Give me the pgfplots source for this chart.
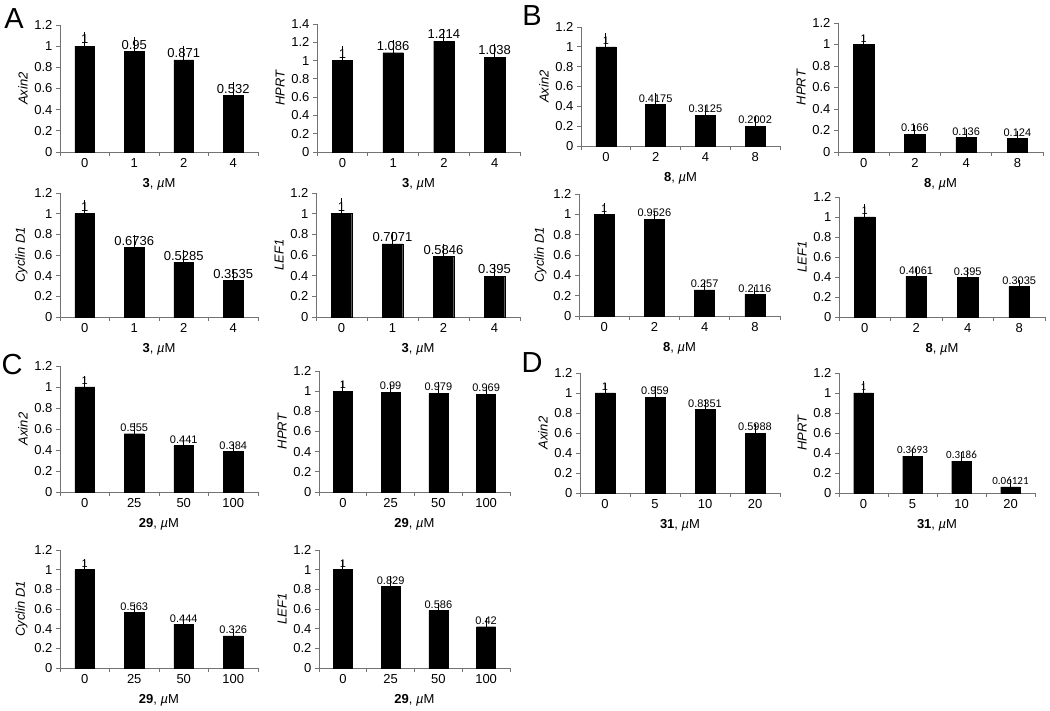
\documentclass[border=0pt]{standalone}
\usepackage{fontspec}
\setmainfont{Liberation Sans}
\newfontfamily\carlito{Carlito}
\usepackage{pgfplots}
\pgfplotsset{compat=1.18}

\pgfplotsset{
  panel/.style={
    scale only axis, anchor=south west, clip=false,
    xmin=-0.5, xmax=3.5, ymin=0, ymax=1.2,
    axis x line*=bottom, axis y line*=left,
    axis line style={draw=black!55, line width=0.8pt},
    ytick={0,0.2,0.4,0.6,0.8,1,1.2},
    tick style={draw=black!55, line width=0.8pt},
    tick align=outside, major tick length=4pt,
    xtick={-0.5,0.5,1.5,2.5,3.5}, xticklabels={},
    extra x ticks={0,1,2,3},
    extra x tick style={major tick length=0pt, tick style={draw=none}},
    tick label style={font=\fontsize{13}{15}\selectfont, /pgf/number format/assume math mode=true},
    xticklabel style={yshift=-3pt},
    xlabel style={font=\fontsize{13}{15}\selectfont},
    ylabel style={font=\fontsize{13}{15}\selectfont\itshape},
    ybar, bar width=0.4,
    nodes near coords, point meta=explicit symbolic,
    every node near coord/.append style={font=\fontsize{11}{13}\selectfont, black, inner sep=2pt},
  },
  biglab/.style={every node near coord/.append style={font=\fontsize{13}{15}\selectfont}},
  blk/.style={fill=black, draw=black,
    error bars/y dir=plus, error bars/y explicit,
    error bars/error bar style={black, line width=0.9pt},
    error bars/error mark options={black, line width=0.9pt, mark size=3.5pt}},
}

\begin{document}
\begin{tikzpicture}
\fill[white] (0,0) rectangle (1050pt,710pt);
\path[use as bounding box] (0,0) rectangle (1050pt,710pt);

% panel letters
\node[font=\fontsize{29}{30}\selectfont] at (14pt,691pt) {A};
\node[font=\fontsize{29}{30}\selectfont] at (532pt,694pt) {B};
\node[font=\fontsize{29}{30}\selectfont] at (12pt,345pt) {C};
\node[font=\fontsize{29}{30}\selectfont] at (532pt,347pt) {D};

% ---- A ----
\begin{axis}[panel, biglab, at={(60pt,558pt)}, width=198pt, height=127pt,
  ylabel={Axin2}, extra x tick labels={0,1,2,4}, xlabel={\textbf{3}, \textit{µ}M}]
\addplot[blk] table[x=x, y=y, y error=e, meta=l] {
x y e l
0 1 0.1 1
1 0.95 0.1 0.95
2 0.871 0.1 0.871
3 0.532 0.1 0.532
};
\end{axis}

\begin{axis}[panel, biglab, at={(317pt,558pt)}, width=203pt, height=128pt,
  ymax=1.4, ytick={0,0.2,0.4,0.6,0.8,1,1.2,1.4},
  ylabel={HPRT}, extra x tick labels={0,1,2,4}, xlabel={\textbf{3}, \textit{µ}M}]
\addplot[blk] table[x=x, y=y, y error=e, meta=l] {
x y e l
0 1 0.12 1
1 1.086 0.1 1.086
2 1.214 0.09 1.214
3 1.038 0.11 1.038
};
\end{axis}

\begin{axis}[panel, biglab, at={(60pt,393pt)}, width=198pt, height=124pt,
  ylabel={Cyclin D1}, extra x tick labels={0,1,2,4}, xlabel={\textbf{3}, \textit{µ}M}]
\addplot[blk] table[x=x, y=y, y error=e, meta=l] {
x y e l
0 1 0.1 1
1 0.6736 0.085 0.6736
2 0.5285 0.085 0.5285
3 0.3535 0.07 0.3535
};
\end{axis}

\begin{axis}[panel, biglab, at={(316pt,393pt)}, width=204pt, height=124pt,
  ylabel={LEF1}, extra x tick labels={0,1,2,4}, xlabel={\textbf{3}, \textit{µ}M}]
\addplot[blk] table[x=x, y=y, y error=e, meta=l] {
x y e l
0 1 0.12 1
1 0.7071 0.08 0.7071
2 0.5846 0.085 0.5846
3 0.395 0.08 0.395
};
\end{axis}

% ---- B ----
\begin{axis}[panel, at={(581pt,564pt)}, width=199pt, height=119pt,
  ylabel={Axin2}, extra x tick labels={0,2,4,8}, xlabel={\textbf{8}, \textit{µ}M}]
\addplot[blk] table[x=x, y=y, y error=e, meta=l] {
x y e l
0 1 0.1 1
1 0.4175 0.08 0.4175
2 0.3125 0.055 0.3125
3 0.2002 0.065 0.2002
};
\end{axis}

\begin{axis}[panel, at={(838pt,558pt)}, width=205pt, height=129pt,
  ylabel={HPRT}, extra x tick labels={0,2,4,8}, xlabel={\textbf{8}, \textit{µ}M}]
\addplot[blk] table[x=x, y=y, y error=e, meta=l] {
x y e l
0 1 0.06 1
1 0.166 0.056 0.166
2 0.136 0.042 0.136
3 0.124 0.036 0.124
};
\end{axis}

\begin{axis}[panel, at={(579pt,394pt)}, width=201pt, height=122pt,
  ylabel={Cyclin D1}, extra x tick labels={0,2,4,8}, xlabel={\textbf{8}, \textit{µ}M}]
\addplot[blk] table[x=x, y=y, y error=e, meta=l] {
x y e l
0 1 0.077 1
1 0.9526 0.047 0.9526
2 0.257 0.055 0.257
3 0.2116 0.04 0.2116
};
\end{axis}

\begin{axis}[panel, at={(839pt,393pt)}, width=206pt, height=120pt,
  ylabel={LEF1}, extra x tick labels={0,2,4,8}, xlabel={\textbf{8}, \textit{µ}M}]
\addplot[blk] table[x=x, y=y, y error=e, meta=l] {
x y e l
0 1 0.09 1
1 0.4061 0.06 0.4061
2 0.395 0.055 0.395
3 0.3035 0.03 0.3035
};
\end{axis}

% ---- C ----
\begin{axis}[panel, at={(60pt,218pt)}, width=198pt, height=126pt,
  ylabel={Axin2}, extra x tick labels={0,25,50,100}, xlabel={\textbf{29}, \textit{µ}M}]
\addplot[blk] table[x=x, y=y, y error=e, meta=l] {
x y e l
0 1 0.074 1
1 0.555 0.065 0.555
2 0.441 0.055 0.441
3 0.384 0.04 0.384
};
\end{axis}

\begin{axis}[panel, at={(319pt,218pt)}, width=191pt, height=121pt,
  ylabel={HPRT}, extra x tick labels={0,25,50,100}, xlabel={\textbf{29}, \textit{µ}M}]
\addplot[blk] table[x=x, y=y, y error=e, meta=l] {
x y e l
0 1 0.067 1
1 0.99 0.043 0.99
2 0.979 0.074 0.979
3 0.969 0.05 0.969
};
\end{axis}

\begin{axis}[panel, at={(60pt,42pt)}, width=198pt, height=118pt,
  ylabel={Cyclin D1}, extra x tick labels={0,25,50,100}, xlabel={\textbf{29}, \textit{µ}M}]
\addplot[blk] table[x=x, y=y, y error=e, meta=l] {
x y e l
0 1 0.07 1
1 0.563 0.05 0.563
2 0.444 0.06 0.444
3 0.326 0.04 0.326
};
\end{axis}

\begin{axis}[panel, at={(319pt,42pt)}, width=191pt, height=118pt,
  ylabel={LEF1}, extra x tick labels={0,25,50,100}, xlabel={\textbf{29}, \textit{µ}M}]
\addplot[blk] table[x=x, y=y, y error=e, meta=l] {
x y e l
0 1 0.06 1
1 0.829 0.07 0.829
2 0.586 0.04 0.586
3 0.42 0.05 0.42
};
\end{axis}

% ---- D ----
\begin{axis}[panel, at={(580pt,217pt)}, width=200pt, height=120pt,
  ylabel={Axin2}, extra x tick labels={0,5,10,20}, xlabel={\textbf{31}, \textit{µ}M}]
\addplot[blk] table[x=x, y=y, y error=e, meta=l] {
x y e l
0 1 0.062 1
1 0.959 0.08 0.959
2 0.8351 0.06 0.8351
3 0.5988 0.06 0.5988
};
\end{axis}

\begin{axis}[panel, at={(839pt,217pt)}, width=196pt, height=120pt,
  ylabel={HPRT}, extra x tick labels={0,5,10,20}, xlabel={\textbf{31}, \textit{µ}M},
  every node near coord/.append style={font=\carlito\fontsize{11}{13}\selectfont}]
\addplot[blk] table[x=x, y=y, y error=e, meta=l] {
x y e l
0 1 0.08 1
1 0.3693 0.04 0.3693
2 0.3186 0.06 0.3186
3 0.06121 0.04 0.06121
};
\end{axis}
\end{tikzpicture}
\end{document}
